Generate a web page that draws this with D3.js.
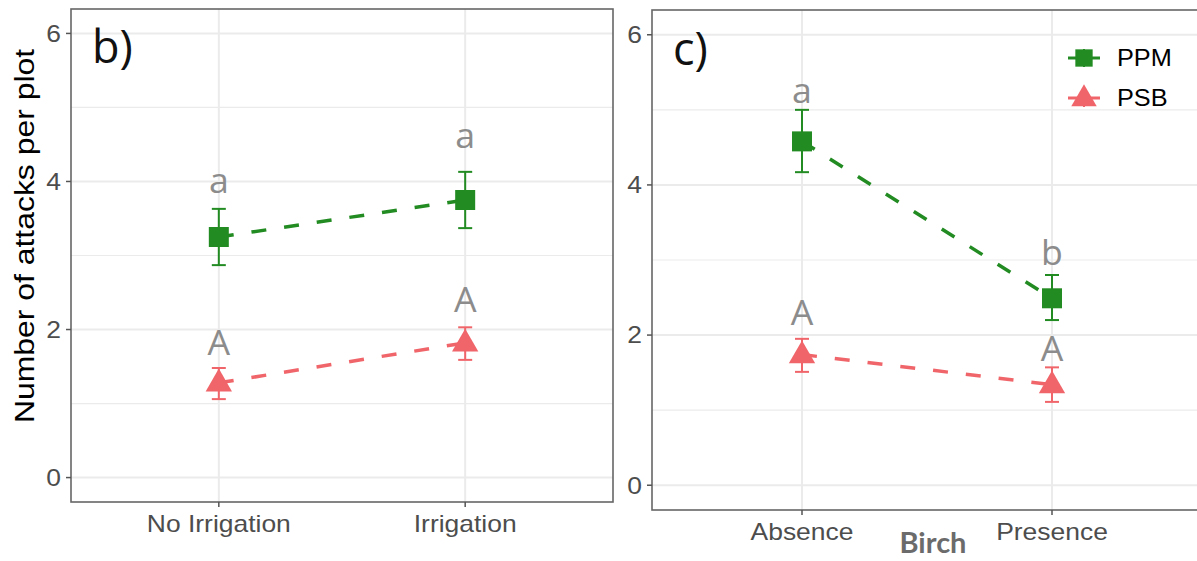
<!DOCTYPE html>
<html>
<head>
<meta charset="utf-8">
<script src="https://cdn.jsdelivr.net/npm/d3@7"></script>
<style>
  html, body { margin: 0; padding: 0; background: #ffffff; }
  svg { display: block; }
</style>
</head>
<body>
<svg id="chart" width="1197" height="561"></svg>
<script>
// ---------------- data ----------------
const yTicks = [0, 2, 4, 6];
const yMinor = [1, 3, 5];
const seriesNames = ["PPM", "PSB"];

// panel b
const catsB = ["No Irrigation", "Irrigation"];
const ppmB = [3.25, 3.75];
const ppmBLo = [2.87, 3.37];
const ppmBHi = [3.63, 4.13];
const psbB = [1.28, 1.82];
const psbBLo = [1.06, 1.59];
const psbBHi = [1.48, 2.03];
const lettersPpmB = ["a", "a"];
const letterYPpmB = [3.84, 4.45];
const lettersPsbB = ["A", "A"];
const letterYPsbB = [1.65, 2.23];

// panel c
const catsC = ["Absence", "Presence"];
const ppmC = [4.58, 2.49];
const ppmCLo = [4.17, 2.20];
const ppmCHi = [5.00, 2.80];
const psbC = [1.74, 1.34];
const psbCLo = [1.51, 1.11];
const psbCHi = [1.95, 1.57];
const lettersPpmC = ["a", "b"];
const letterYPpmC = [5.09, 2.93];
const lettersPsbC = ["A", "A"];
const letterYPsbC = [2.13, 1.65];

// ---------------- styles ----------------
const GREEN = "#228B22";
const RED = "#F0656A";
const GRID = "#ebebeb";
const TICKTXT = "#4d4d4d";
const LETTER = "#8c8c8c";
const SX = 1.15; // horizontal stretch of the original figure's text
const SANS = "'Liberation Sans', Arial, sans-serif";
const svg = d3.select("#chart");

function drawPanel(opt) {
  const { x0, x1, y0, y1, cats, series, label, labelPos } = opt;
  const g = svg.append("g");
  const x = d3.scalePoint().domain(cats).range([x0, x1]).padding(0.6);
  const y = d3.scaleLinear().domain([-0.33, 6.33]).range([y1, y0]);

  const clipId = "clip" + Math.round(x0);
  svg.append("clipPath").attr("id", clipId)
    .append("rect").attr("x", x0).attr("y", y0).attr("width", x1 - x0).attr("height", y1 - y0);
  const inner = g.append("g").attr("clip-path", `url(#${clipId})`);

  // grid
  inner.selectAll(".gmin").data(yMinor).join("line")
    .attr("x1", x0).attr("x2", x1).attr("y1", d => y(d)).attr("y2", d => y(d))
    .attr("stroke", GRID).attr("stroke-width", 1.2);
  inner.selectAll(".gmaj").data(yTicks).join("line")
    .attr("x1", x0).attr("x2", x1).attr("y1", d => y(d)).attr("y2", d => y(d))
    .attr("stroke", GRID).attr("stroke-width", 2);
  inner.selectAll(".gx").data(cats).join("line")
    .attr("x1", d => x(d)).attr("x2", d => x(d)).attr("y1", y0).attr("y2", y1)
    .attr("stroke", GRID).attr("stroke-width", 2);

  // series
  series.forEach(s => {
    const pts = cats.map((c, i) => ({ c, v: s.values[i], lo: s.lo[i], hi: s.hi[i], lab: s.letters[i], ly: s.letterY[i] }));
    inner.append("path").datum(pts)
      .attr("d", d3.line().x(d => x(d.c)).y(d => y(d.v)))
      .attr("fill", "none").attr("stroke", s.color).attr("stroke-width", 3.5)
      .attr("stroke-dasharray", "15,18");
    const eb = inner.append("g").attr("stroke", s.color).attr("stroke-width", 2);
    eb.selectAll(".v").data(pts).join("line")
      .attr("x1", d => x(d.c)).attr("x2", d => x(d.c)).attr("y1", d => y(d.lo)).attr("y2", d => y(d.hi));
    eb.selectAll(".t").data(pts).join("line")
      .attr("x1", d => x(d.c) - 7).attr("x2", d => x(d.c) + 7).attr("y1", d => y(d.hi)).attr("y2", d => y(d.hi));
    eb.selectAll(".b").data(pts).join("line")
      .attr("x1", d => x(d.c) - 7).attr("x2", d => x(d.c) + 7).attr("y1", d => y(d.lo)).attr("y2", d => y(d.lo));
    const sym = s.shape === "square" ? d3.symbolSquare : d3.symbolTriangle;
    const size = s.shape === "square" ? 400 : 300;
    inner.selectAll(".p").data(pts).join("path")
      .attr("d", d3.symbol().type(sym).size(size))
      .attr("transform", d => `translate(${x(d.c)},${y(d.v) + (s.shape === "square" ? 0 : 1)})`)
      .attr("fill", s.color);
    g.selectAll(".lt" + s.name).data(pts).join("text")
      .attr("transform", d => `translate(${x(d.c)},${y(d.ly)}) scale(1.05,1)`)
      .attr("text-anchor", "middle")
      .attr("font-family", "'Open Sans', sans-serif").attr("font-size", 34)
      .attr("fill", LETTER).text(d => d.lab);
  });

  // border
  g.append("rect").attr("x", x0).attr("y", y0).attr("width", x1 - x0).attr("height", y1 - y0)
    .attr("fill", "none").attr("stroke", "#666").attr("stroke-width", 1.6);

  // y axis
  g.selectAll(".yt").data(yTicks).join("line")
    .attr("x1", x0 - 5).attr("x2", x0).attr("y1", d => y(d)).attr("y2", d => y(d))
    .attr("stroke", "#555").attr("stroke-width", 1.5);
  g.selectAll(".ytl").data(yTicks).join("text")
    .attr("transform", d => `translate(${x0 - 10},${y(d)}) scale(${SX},1)`)
    .attr("dy", "0.36em")
    .attr("text-anchor", "end")
    .attr("font-family", SANS).attr("font-size", 23)
    .attr("fill", TICKTXT).text(d => d);

  // x axis
  g.selectAll(".xt").data(cats).join("line")
    .attr("x1", d => x(d)).attr("x2", d => x(d)).attr("y1", y1).attr("y2", y1 + 5)
    .attr("stroke", "#555").attr("stroke-width", 1.5);
  g.selectAll(".xtl").data(cats).join("text")
    .attr("transform", d => `translate(${x(d)},${y1 + 30}) scale(${SX},1)`)
    .attr("text-anchor", "middle")
    .attr("font-family", SANS).attr("font-size", 23)
    .attr("fill", TICKTXT).text(d => d);

  // panel label
  g.append("text").attr("x", labelPos[0]).attr("y", labelPos[1])
    .attr("font-family", "'Open Sans', sans-serif").attr("font-size", 45)
    .attr("fill", "#111").text(label);

  return { x, y };
}

drawPanel({
  x0: 71, x1: 613, y0: 9, y1: 502, cats: catsB, label: "b)", labelPos: [92, 63],
  series: [
    { name: "PPM", values: ppmB, lo: ppmBLo, hi: ppmBHi, letters: lettersPpmB, letterY: letterYPpmB, color: GREEN, shape: "square" },
    { name: "PSB", values: psbB, lo: psbBLo, hi: psbBHi, letters: lettersPsbB, letterY: letterYPsbB, color: RED, shape: "triangle" }
  ]
});

drawPanel({
  x0: 652, x1: 1202, y0: 10, y1: 510, cats: catsC, label: "c)", labelPos: [673, 65],
  series: [
    { name: "PPM", values: ppmC, lo: ppmCLo, hi: ppmCHi, letters: lettersPpmC, letterY: letterYPpmC, color: GREEN, shape: "square" },
    { name: "PSB", values: psbC, lo: psbCLo, hi: psbCHi, letters: lettersPsbC, letterY: letterYPsbC, color: RED, shape: "triangle" }
  ]
});

// y axis title (stretched along its length like the original)
svg.append("text")
  .attr("transform", "translate(34,236) rotate(-90) scale(1.14,1)")
  .attr("text-anchor", "middle")
  .attr("font-family", SANS).attr("font-size", 28)
  .attr("fill", "#000").text("Number of attacks per plot");

// x axis title (Birch)
svg.append("text").attr("x", 933).attr("y", 553)
  .attr("text-anchor", "middle")
  .attr("font-family", "Lato, 'Open Sans', sans-serif").attr("font-weight", "bold").attr("font-size", 29)
  .attr("fill", "#6b6b6b").text("Birch");

// legend
const legendColors = [GREEN, RED];
const legendShapes = [d3.symbolSquare, d3.symbolTriangle];
const legendSizes = [300, 280];
const lg = svg.append("g").attr("transform", "translate(1068,58)");
seriesNames.forEach((nm, i) => {
  const row = lg.append("g").attr("transform", `translate(0,${i * 40})`);
  row.append("line").attr("x1", 0).attr("x2", 32).attr("y1", 0).attr("y2", 0)
    .attr("stroke", legendColors[i]).attr("stroke-width", 3);
  row.append("line").attr("x1", 16).attr("x2", 16).attr("y1", -9).attr("y2", 9)
    .attr("stroke", legendColors[i]).attr("stroke-width", 2);
  row.append("path").attr("d", d3.symbol().type(legendShapes[i]).size(legendSizes[i]))
    .attr("transform", `translate(16,${i === 1 ? 1 : 0})`).attr("fill", legendColors[i]);
  row.append("text").attr("transform", `translate(49,0) scale(1.1,1)`).attr("dy", "0.36em")
    .attr("font-family", SANS).attr("font-size", 23)
    .attr("fill", "#000").text(nm);
});
</script>
</body>
</html>
